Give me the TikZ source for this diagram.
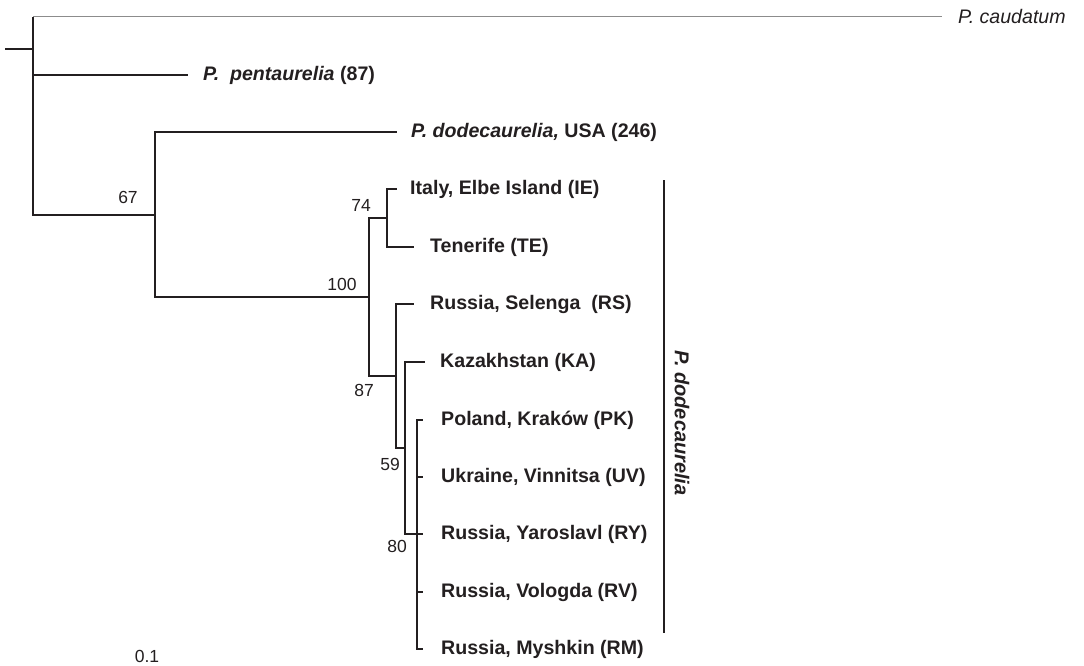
\documentclass[tikz,border=0pt]{standalone}
\usepackage{fontspec}
\setmainfont{Liberation Sans}
\usetikzlibrary{positioning}
\definecolor{ink}{HTML}{231F20}
\definecolor{faint}{HTML}{8C8C8C}
\tikzset{
	branch/.style={draw=ink, line width=1.5pt},
	outgroup/.style={draw=faint, line width=1pt},
	taxon/.style={anchor=west, inner sep=0pt, text=ink,
		font=\fontsize{19.6}{21}\selectfont\bfseries},
	boot/.style={inner sep=0pt, text=ink, font=\fontsize{17.5}{19}\selectfont},
}
\begin{document}
\begin{tikzpicture}[x=1pt, y=-1pt]
	\useasboundingbox (0,0) rectangle (1084,666);
	% innere Knoten
	\coordinate (stub) at (5,49);
	\coordinate (n0) at (33,49);
	\coordinate (n67) at (155,215);
	\coordinate (n100) at (369,297);
	\coordinate (n74) at (387,218);
	\coordinate (n87) at (396,376);
	\coordinate (n59) at (405,448);
	\coordinate (n80) at (417,534);
	% Astenden
	\coordinate (tCA) at (942,17);
	\coordinate (tPE) at (188,75);
	\coordinate (tUS) at (397,132);
	\coordinate (tIE) at (397,189);
	\coordinate (tTE) at (414,247);
	\coordinate (tRS) at (414,304);
	\coordinate (tKA) at (425,362);
	% Aeste
	\draw[branch] (stub) -- (n0);
	\draw[branch] (n0 |- tCA) -- (n0 |- n67);
	\draw[outgroup] (n0 |- tCA) -- (tCA);
	\draw[branch] (n0) |- (tPE);
	\draw[branch] (n0) |- (n67);
	\draw[branch] (n67) |- (tUS);
	\draw[branch] (n67) |- (n100);
	\draw[branch] (n100) |- (n74);
	\draw[branch] (n100) |- (n87);
	\draw[branch] (n74) |- (tIE);
	\draw[branch] (n74) |- (tTE);
	\draw[branch] (n87) |- (tRS);
	\draw[branch] (n87) |- (n59);
	\draw[branch] (n59) |- (tKA);
	\draw[branch] (n59) |- (n80);
	% Taxa
	\node[taxon, font=\fontsize{19.6}{21}\selectfont\itshape, right=16pt of tCA] (CA) {P. caudatum};
	\node[taxon, right=15pt of tPE] (PE) {\textit{P.~~pentaurelia} (87)};
	\node[taxon, right=14pt of tUS] (US) {\textit{P. dodecaurelia,} USA (246)};
	\node[taxon, right=13pt of tIE] (IE) {Italy, Elbe Island (IE)};
	\node[taxon, right=16pt of tTE] (TE) {Tenerife (TE)};
	\node[taxon, right=16pt of tRS] (RS) {Russia, Selenga~~(RS)};
	\node[taxon, right=15pt of tKA] (KA) {Kazakhstan (KA)};
	\foreach \nm/\yy/\txt in {PK/420/{Poland, Kraków (PK)}, UV/477/{Ukraine, Vinnitsa (UV)},
		RY/534/{Russia, Yaroslavl (RY)}, RV/592/{Russia, Vologda (RV)}, RM/649/{Russia, Myshkin (RM)}}{
		\coordinate (t\nm) at (423,\yy);
		\draw[branch] (n80) |- (t\nm);
		\node[taxon, right=18pt of t\nm] (\nm) {\txt};
	}
	% Bootstrapwerte
	\node[boot] (b67) at (128,197) {67};
	\node[boot] (b74) at (361,205) {74};
	\node[boot] (b100) at (342,284) {100};
	\node[boot] (b87) at (364,390) {87};
	\node[boot] (b59) at (390,464) {59};
	\node[boot] (b80) at (397,546) {80};
	% Klade
	\coordinate (cTop) at (664,180);
	\coordinate (cBot) at (664,633);
	\draw[draw=ink, line width=2pt] (cTop) -- (cBot);
	\node[taxon, anchor=center, rotate=-90, font=\fontsize{20}{21}\selectfont\bfseries\itshape] (clade) at (682,423) {P. dodecaurelia};
	% Massstab
	\node[boot] (scale) at (147,656) {0.1};
\end{tikzpicture}
\end{document}
